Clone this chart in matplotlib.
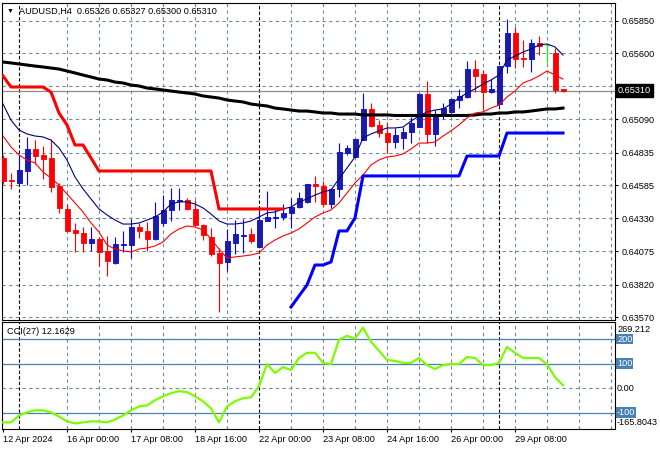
import numpy as np
import matplotlib.pyplot as plt

plt.rcParams['font.family'] = ['Liberation Sans', 'DejaVu Sans']
plt.rcParams['font.size'] = 6.6

# AUDUSD H4 candles, 12 Apr 16:00 -> 30 Apr 08:00
opens = [0.64793, 0.64624, 0.64601, 0.64693, 0.64862, 0.64816, 0.64793, 0.64578, 0.64401, 0.64239,
         0.64216, 0.64139, 0.64170, 0.64078, 0.63986, 0.64124, 0.64124, 0.64262, 0.64232, 0.64170,
         0.64293, 0.64393, 0.64462, 0.64470, 0.64401, 0.64278, 0.64186, 0.64062, 0.63993, 0.64139,
         0.64193, 0.64209, 0.64109, 0.64309, 0.64332, 0.64339, 0.64370, 0.64416, 0.64455, 0.64593,
         0.64578, 0.64439, 0.64555, 0.64831, 0.64801, 0.64931, 0.65170, 0.65047, 0.64985, 0.64916,
         0.64947, 0.64993, 0.65031, 0.65285, 0.64978, 0.65124, 0.65147, 0.65239, 0.65262, 0.65477,
         0.65439, 0.65300, 0.65208, 0.65500, 0.65754, 0.65565, 0.65554, 0.65677, 0.65662, 0.65600,
         0.65326]
highs = [0.64816, 0.64678, 0.64801, 0.64955, 0.64931, 0.64885, 0.64939, 0.64601, 0.64439, 0.64293,
         0.64262, 0.64262, 0.64186, 0.64193, 0.64186, 0.64232, 0.64324, 0.64293, 0.64301, 0.64455,
         0.64508, 0.64562, 0.64562, 0.64485, 0.64470, 0.64285, 0.64255, 0.64101, 0.64247, 0.64316,
         0.64324, 0.64255, 0.64416, 0.64539, 0.64409, 0.64439, 0.64485, 0.64532, 0.64593, 0.64655,
         0.64616, 0.64562, 0.64908, 0.64893, 0.64942, 0.65293, 0.65216, 0.65085, 0.65070, 0.65024,
         0.65031, 0.65108, 0.65290, 0.65385, 0.65162, 0.65216, 0.65250, 0.65324, 0.65539, 0.65547,
         0.65470, 0.65400, 0.65500, 0.65862, 0.65800, 0.65700, 0.65708, 0.65731, 0.65662, 0.65639,
         0.65327]
lows = [0.64593, 0.64555, 0.64598, 0.64585, 0.64747, 0.64632, 0.64532, 0.64370, 0.64224, 0.64070,
        0.64070, 0.64078, 0.63963, 0.63886, 0.63980, 0.64070, 0.64024, 0.64178, 0.64078, 0.64162,
        0.64270, 0.64309, 0.64393, 0.64393, 0.64278, 0.64162, 0.64039, 0.63609, 0.63924, 0.64055,
        0.64062, 0.64139, 0.64105, 0.64305, 0.64255, 0.64316, 0.64255, 0.64412, 0.64450, 0.64455,
        0.64416, 0.64409, 0.64493, 0.64816, 0.64798, 0.64928, 0.65035, 0.64955, 0.64831, 0.64870,
        0.64862, 0.64908, 0.65028, 0.64908, 0.64885, 0.65093, 0.65139, 0.65177, 0.65258, 0.65300,
        0.65162, 0.65293, 0.65193, 0.65447, 0.65485, 0.65493, 0.65454, 0.65585, 0.65524, 0.65293,
        0.65300]
closes = [0.64616, 0.64616, 0.64701, 0.64862, 0.64808, 0.64785, 0.64570, 0.64409, 0.64232, 0.64216,
          0.64139, 0.64170, 0.64070, 0.64001, 0.64132, 0.64132, 0.64262, 0.64232, 0.64170, 0.64347,
          0.64393, 0.64470, 0.64470, 0.64401, 0.64278, 0.64201, 0.64055, 0.63986, 0.64155, 0.64209,
          0.64201, 0.64155, 0.64316, 0.64339, 0.64339, 0.64370, 0.64416, 0.64485, 0.64590, 0.64578,
          0.64439, 0.64555, 0.64839, 0.64870, 0.64939, 0.65170, 0.65039, 0.64985, 0.64916, 0.64970,
          0.64993, 0.65062, 0.65285, 0.64978, 0.65116, 0.65177, 0.65247, 0.65270, 0.65477, 0.65424,
          0.65300, 0.65324, 0.65497, 0.65754, 0.65554, 0.65557, 0.65677, 0.65654, 0.65662, 0.65316,
          0.65310]

# slow moving average (thick black)
ma_slow = [0.65531, 0.65524, 0.65516, 0.65508, 0.65500, 0.65493, 0.65485, 0.65477, 0.65462, 0.65447,
           0.65431, 0.65416, 0.65400, 0.65393, 0.65377, 0.65370, 0.65354, 0.65347, 0.65331, 0.65324,
           0.65316, 0.65308, 0.65300, 0.65293, 0.65285, 0.65270, 0.65262, 0.65254, 0.65239, 0.65231,
           0.65224, 0.65208, 0.65200, 0.65193, 0.65177, 0.65170, 0.65162, 0.65154, 0.65154, 0.65147,
           0.65139, 0.65139, 0.65131, 0.65131, 0.65131, 0.65124, 0.65124, 0.65124, 0.65124, 0.65120,
           0.65120, 0.65120, 0.65120, 0.65120, 0.65120, 0.65120, 0.65120, 0.65120, 0.65120, 0.65124,
           0.65131, 0.65131, 0.65139, 0.65139, 0.65147, 0.65147, 0.65154, 0.65162, 0.65170, 0.65170,
           0.65177]
# fast averages (thin navy = upper, thin red = lower)
ma_high = [0.65208, 0.65085, 0.65008, 0.64978, 0.64962, 0.64955, 0.64931, 0.64870, 0.64778, 0.64647,
           0.64555, 0.64478, 0.64401, 0.64355, 0.64316, 0.64285, 0.64285, 0.64293, 0.64316, 0.64339,
           0.64378, 0.64439, 0.64455, 0.64455, 0.64439, 0.64409, 0.64362, 0.64309, 0.64285, 0.64285,
           0.64293, 0.64309, 0.64339, 0.64370, 0.64378, 0.64401, 0.64416, 0.64455, 0.64478, 0.64508,
           0.64532, 0.64547, 0.64632, 0.64716, 0.64801, 0.64947, 0.64978, 0.65001, 0.65024, 0.65024,
           0.65031, 0.65077, 0.65116, 0.65147, 0.65162, 0.65170, 0.65208, 0.65254, 0.65293, 0.65324,
           0.65362, 0.65393, 0.65431, 0.65547, 0.65577, 0.65608, 0.65631, 0.65662, 0.65670, 0.65647,
           0.65585]
ma_low = [0.64962, 0.64878, 0.64816, 0.64778, 0.64755, 0.64685, 0.64639, 0.64585, 0.64516, 0.64447,
          0.64378, 0.64293, 0.64224, 0.64124, 0.64093, 0.64078, 0.64070, 0.64093, 0.64101, 0.64116,
          0.64147, 0.64209, 0.64247, 0.64270, 0.64262, 0.64239, 0.64170, 0.64093, 0.64024, 0.64032,
          0.64039, 0.64047, 0.64062, 0.64124, 0.64162, 0.64193, 0.64216, 0.64247, 0.64293, 0.64339,
          0.64370, 0.64393, 0.64447, 0.64524, 0.64601, 0.64662, 0.64739, 0.64778, 0.64801, 0.64808,
          0.64824, 0.64862, 0.64908, 0.64908, 0.64916, 0.64962, 0.65001, 0.65047, 0.65101, 0.65139,
          0.65147, 0.65177, 0.65200, 0.65262, 0.65308, 0.65370, 0.65393, 0.65424, 0.65462, 0.65431,
          0.65400]
# trailing stops: red while short (bars 0-35), blue while long (bars 36-70)
stop_short = [0.65424, 0.65339, 0.65339, 0.65339, 0.65339, 0.65339, 0.65300, 0.65139, 0.65047, 0.64893,
              0.64893, 0.64793, 0.64693, 0.64693, 0.64693, 0.64693, 0.64693, 0.64693, 0.64693, 0.64693,
              0.64693, 0.64693, 0.64693, 0.64693, 0.64693, 0.64693, 0.64693, 0.64401, 0.64401, 0.64401,
              0.64401, 0.64401, 0.64401, 0.64401, 0.64401, 0.64401]
stop_long = [0.63647, 0.63732, 0.63816, 0.63970, 0.63970, 0.63993, 0.64232, 0.64232, 0.64332, 0.64655,
             0.64655, 0.64655, 0.64655, 0.64655, 0.64655, 0.64655, 0.64655, 0.64655, 0.64655, 0.64655,
             0.64655, 0.64655, 0.64808, 0.64808, 0.64808, 0.64808, 0.64808, 0.64985, 0.64985, 0.64985,
             0.64985, 0.64985, 0.64985, 0.64985, 0.64985]

cci = [-139, -139, -111, -98, -90, -90, -98, -115, -135, -143,
       -139, -135, -135, -139, -127, -111, -90, -74, -70, -49,
       -33, -20, -12, -16, -33, -53, -82, -139, -74, -53,
       -41, -37, 8, 98, 62, 86, 74, 123, 144, 144,
       103, 98, 197, 213, 201, 246, 189, 152, 115, 111,
       103, 103, 123, 94, 78, 94, 98, 98, 127, 123,
       94, 94, 103, 168, 144, 123, 123, 123, 98, 45,
       12.16]

price_ticks = [0.65850, 0.65600, 0.65345, 0.65090, 0.64835, 0.64585, 0.64330, 0.64075, 0.63820, 0.63570]
last_price = 0.65310
time_pos = [0, 8, 16, 24, 32, 40, 48, 56, 64]
time_labels = ['12 Apr 2024', '16 Apr 00:00', '17 Apr 08:00', '18 Apr 16:00', '22 Apr 00:00',
               '23 Apr 08:00', '24 Apr 16:00', '26 Apr 00:00', '29 Apr 08:00']
week_sep = [2, 32, 62]
cci_levels = [200, 100, -100]

W, H = 660, 450
fig = plt.figure(figsize=(6.6, 4.5), dpi=100)
ax = fig.add_axes([2 / W, 1 - 320 / H, 613 / W, 317 / H])
ax2 = fig.add_axes([2 / W, 1 - 429 / H, 613 / W, 107 / H], sharex=ax)

x = np.arange(len(closes))
ax.set_xlim(-0.125, 76.5)
ax.set_ylim(0.63547, 0.65985)
ax2.set_ylim(-165.8043, 269.212)

grid_kw = dict(color='#778899', lw=0.8, ls=(0, (3, 3)), zorder=0)
sep_kw = dict(color='black', lw=0.8, ls=(0, (3, 2)), zorder=0.5)
for v in price_ticks:
    ax.axhline(v, **grid_kw)
ax2.axhline(0, **grid_kw)
for i in range(8, 77, 4):
    if i in week_sep:
        continue
    ax.axvline(i, **grid_kw)
    ax2.axvline(i, **grid_kw)
for i in week_sep:
    ax.axvline(i, **sep_kw)
    ax2.axvline(i, **sep_kw)

ax.axhline(last_price, color='#8c8c8c', lw=0.9, zorder=0.8)

# candles
body_w = 0.625
for i in range(len(closes)):
    o, h, l, c = opens[i], highs[i], lows[i], closes[i]
    if c > o:
        wick, face, edge = '#0000ff', '#1c1ca0', '#0000ff'
    elif c < o:
        wick, face, edge = '#ff0000', '#ff0000', '#ff0000'
    else:
        wick, face, edge = '#00ff00', '#00ff00', '#00ff00'
    ax.vlines(i, l, h, color=wick, lw=0.8, zorder=2)
    ax.bar(i, max(abs(c - o), 0.00003), bottom=min(o, c), width=body_w,
           color=face, edgecolor=edge, lw=0.6, zorder=3)

ax.plot(x, ma_slow, color='black', lw=2.2, zorder=4)
ax.plot(x, ma_high, color='#000080', lw=0.8, zorder=4)
ax.plot(x, ma_low, color='#ff0000', lw=0.8, zorder=4)
ax.plot(x[:len(stop_short)], stop_short, color='#ff0000', lw=2.2, zorder=4)
ax.plot(x[len(stop_short):], stop_long, color='#0000ff', lw=2.2, zorder=4)

# CCI panel
for lv in cci_levels:
    ax2.axhline(lv, color='#4682b4', lw=0.9, zorder=1)
ax2.plot(x, cci, color='#7cfc00', lw=1.6, zorder=3)

# axes styling
for a in (ax, ax2):
    for s in a.spines.values():
        s.set_color('black')
        s.set_linewidth(0.8)

ax.yaxis.tick_right()
ax.set_yticks(price_ticks)
ax.set_yticklabels(['%.5f' % v for v in price_ticks])
ax.tick_params(axis='y', length=2.5, width=0.8, pad=2.5, labelsize=6.6)
ax.tick_params(axis='x', bottom=False, labelbottom=False)

ax2.set_yticks([])
ax2.set_xticks(time_pos)
ax2.set_xticklabels(time_labels)
for lbl in ax2.get_xticklabels():
    lbl.set_ha('left')
ax2.tick_params(axis='x', length=2.5, width=0.8, pad=2, labelsize=6.6)

ax.annotate('%.5f' % last_price, xy=(1, last_price), xycoords=('axes fraction', 'data'),
            xytext=(3, 0), textcoords='offset pixels', va='center', ha='left', color='white',
            fontsize=6.6, annotation_clip=False, zorder=10,
            bbox=dict(boxstyle='square,pad=0.2', fc='black', ec='black'))

def cci_label(txt, val, dy, va, boxed=False):
    kw = dict(xy=(1, val), xycoords=('axes fraction', 'data'), xytext=(2, dy),
              textcoords='offset pixels', va=va, ha='left', fontsize=6.6, annotation_clip=False)
    if boxed:
        kw['color'] = 'white'
        kw['bbox'] = dict(boxstyle='square,pad=0.1', fc='#4682b4', ec='none')
    ax2.annotate(txt, **kw)

cci_label('269.212', 269.212, -3, 'top')
for lv in cci_levels:
    cci_label(str(lv), lv, 0, 'center', boxed=True)
cci_label('0.00', 0, 0, 'center')
cci_label('-165.8043', -165.8043, 2, 'bottom')

fig.text(7 / W, 1 - 11 / H, '\u25bc', fontsize=5, va='center', ha='left')
fig.text(19 / W, 1 - 11 / H, 'AUDUSD,H4  0.65326 0.65327 0.65300 0.65310', va='center', ha='left')
fig.text(7 / W, 1 - 331 / H, 'CCI(27) 12.1629', va='center', ha='left')

fig.savefig('out.png', dpi=100)
